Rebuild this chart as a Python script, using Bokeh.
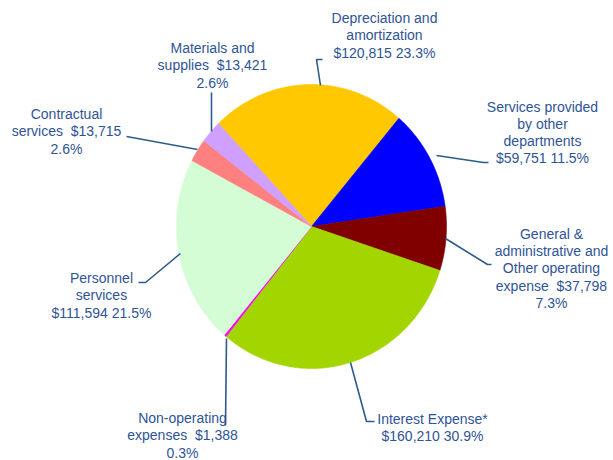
import numpy as np
from bokeh.plotting import figure
from bokeh.models import Range1d, ColumnDataSource
from bokeh.embed import file_html
from bokeh.resources import INLINE
from bokeh.core.properties import value

# ---------------- data ----------------
categories = [
    "Depreciation and amortization",
    "Services provided by other departments",
    "General & administrative and Other operating expense",
    "Interest Expense*",
    "Non-operating expenses",
    "Personnel services",
    "Contractual services",
    "Materials and supplies",
]
amounts = [120815, 59751, 37798, 160210, 1388, 111594, 13715, 13421]
label_templates = [
    "Depreciation and\namortization\n{amt} {pct}",
    "Services provided\nby other\ndepartments\n{amt} {pct}",
    "General &\nadministrative and\nOther operating\nexpense\u00a0 {amt}\n{pct}",
    "Interest Expense*\n{amt} {pct}",
    "Non-operating\nexpenses\u00a0 {amt}\n{pct}",
    "Personnel\nservices\n{amt} {pct}",
    "Contractual\nservices\u00a0 {amt}\n{pct}",
    "Materials and\nsupplies\u00a0 {amt}\n{pct}",
]
colors = ["#FFC800", "#0000FF", "#800000", "#A3D600",
          "#FF00FF", "#D5FDD5", "#FF8080", "#CFA0FF"]

# ---------------- layout (pixels of the page) ----------------
CX, CY = 311.0, 226.0      # pie centre
RX, RY = 135.0, 142.0      # pie radii
START_DEG = 133.5          # angle where first slice starts (clockwise)

label_pos_px = [(384, 35), (542, 132), (551, 268), (432, 427),
                (182, 435), (101, 295), (66, 131), (212, 65)]
leader_px = [
    [(320, 85), (316, 59), (322, 59)],
    [(436, 155), (483, 162), (488, 162)],
    [(445, 238), (487, 264), (491, 264)],
    [(350, 362), (366, 421), (374, 421)],
    [(226, 338), (225, 425)],
    [(180, 253), (145, 282), (138, 282)],
    [(197, 149), (126, 136)],
    [(211, 131), (211, 92)],
]


def dx(px):
    return (px - CX) / RX


def dy(py):
    return (CY - py) / RY


total = sum(amounts)
fracs = [a / total for a in amounts]

xs, ys = [], []
cum = 0.0
for f in fracs:
    a0 = np.deg2rad(START_DEG) - 2 * np.pi * cum
    a1 = np.deg2rad(START_DEG) - 2 * np.pi * (cum + f)
    n = max(3, int(f * 720))
    t = np.linspace(a0, a1, n)
    xs.append([0.0] + list(np.cos(t)))
    ys.append([0.0] + list(np.sin(t)))
    cum += f

labels = [tpl.format(amt=f"${a:,}", pct=f"{a / total * 100:.1f}%")
          for tpl, a in zip(label_templates, amounts)]

W, H = 613, 460
p = figure(width=W, height=H, output_backend="svg", toolbar_location=None,
           x_range=Range1d(dx(0), dx(W)), y_range=Range1d(dy(H), dy(0)),
           min_border=0)
p.axis.visible = False
p.xaxis.visible = False
p.yaxis.visible = False
p.grid.visible = False
p.outline_line_color = None
p.background_fill_color = "white"
p.border_fill_color = "white"

pie_src = ColumnDataSource(dict(xs=xs, ys=ys, color=colors, cat=categories))
p.patches("xs", "ys", source=pie_src, fill_color="color", line_color="color",
          line_width=0.6)

p.multi_line([[dx(x) for x, _ in seg] for seg in leader_px],
             [[dy(y) for _, y in seg] for seg in leader_px],
             line_color="#2E5B8C", line_width=1.6)

lab_src = ColumnDataSource(dict(x=[dx(x) for x, _ in label_pos_px],
                                y=[dy(y) for _, y in label_pos_px],
                                text=labels))
p.text("x", "y", text="text", source=lab_src, text_align="center",
       text_baseline="middle", text_font=value("Liberation Sans"),
       text_font_size="14px", text_color="#2F5496", text_line_height=1.08)

open("out.html", "w").write(file_html(p, INLINE))
